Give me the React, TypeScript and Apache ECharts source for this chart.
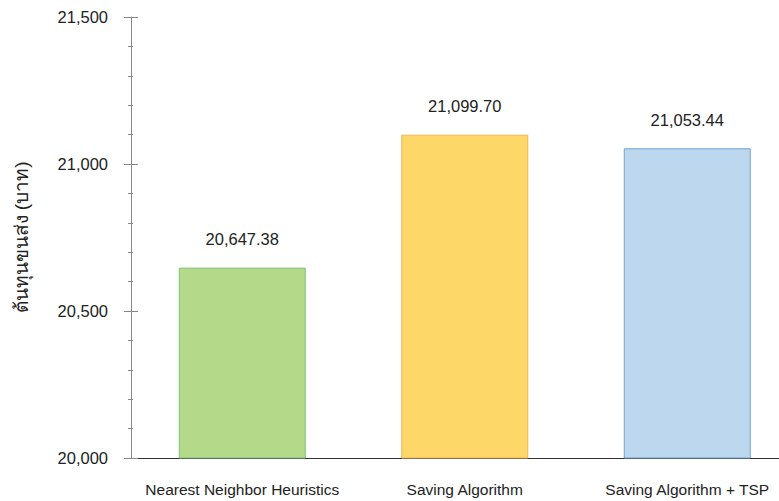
import React, { useEffect, useRef } from "react";
import * as echarts from "echarts";

const categories = ["Nearest Neighbor Heuristics", "Saving Algorithm", "Saving Algorithm + TSP"];
const values = [20647.38, 21099.7, 21053.44];
const fills = ["#b4d989", "#fdd868", "#bdd7ee"];
const borders = ["#7ac37a", "#f1b556", "#6fa3d0"];
const yName = "ต้นทุนขนส่ง (บาท)";

const FONT = "Arial, 'Liberation Sans', Helvetica, 'Noto Sans', sans-serif";

export default function App() {
  const ref = useRef<HTMLDivElement>(null);
  useEffect(() => {
    if (!ref.current) return;
    const chart = echarts.init(ref.current, undefined, { renderer: "svg" });
    const fmt = (v: number) =>
      v.toLocaleString("en-US", { minimumFractionDigits: 2, maximumFractionDigits: 2 });
    chart.setOption({
      animation: false,
      backgroundColor: "#ffffff",
      grid: {
        left: 131,
        width: 667.5,
        top: 17,
        bottom: 43,
        containLabel: false,
        outerBoundsMode: "none",
      },
      xAxis: {
        type: "category",
        data: categories,
        axisLine: { show: true, lineStyle: { color: "#333333", width: 1 } },
        axisTick: { show: false },
        axisLabel: { color: "#222222", fontSize: 15.5, fontFamily: FONT, margin: 23, interval: 0 },
      },
      yAxis: [
        {
          type: "value",
          min: 20000,
          max: 21500,
          interval: 500,
          name: yName,
          nameLocation: "middle",
          nameGap: 100,
          nameTextStyle: { color: "#222222", fontSize: 19, fontFamily: FONT },
          axisLine: { show: true, lineStyle: { color: "#888888" } },
          axisTick: { show: true, length: 7, lineStyle: { color: "#888888" } },
          minorTick: { show: true, splitNumber: 5, length: 3, lineStyle: { color: "#888888" } },
          splitLine: { show: false },
          axisLabel: {
            color: "#222222",
            fontSize: 16.5,
            fontFamily: FONT,
            margin: 23,
            formatter: (v: number) => v.toLocaleString("en-US"),
          },
        },
        {
          type: "value",
          min: 20000,
          max: 21500,
          interval: 500,
          position: "left",
          axisLine: { show: false },
          axisTick: { show: true, inside: true, length: 7, lineStyle: { color: "#888888" } },
          minorTick: { show: true, splitNumber: 5, length: 2, lineStyle: { color: "#888888" } },
          splitLine: { show: false },
          axisLabel: { show: false },
        },
      ],
      series: [
        {
          type: "bar",
          barWidth: 127,
          data: values.map((v, i) => ({
            value: v,
            itemStyle: { color: fills[i], borderColor: borders[i], borderWidth: 1 },
          })),
          label: {
            show: true,
            position: "top",
            distance: 20,
            color: "#222222",
            fontSize: 16.5,
            fontFamily: FONT,
            formatter: (p: any) => fmt(p.value),
          },
        },
      ],
    });
    return () => chart.dispose();
  }, []);
  return <div ref={ref} style={{ width: 779, height: 501, position: "absolute", left: 0, top: 0 }} />;
}
